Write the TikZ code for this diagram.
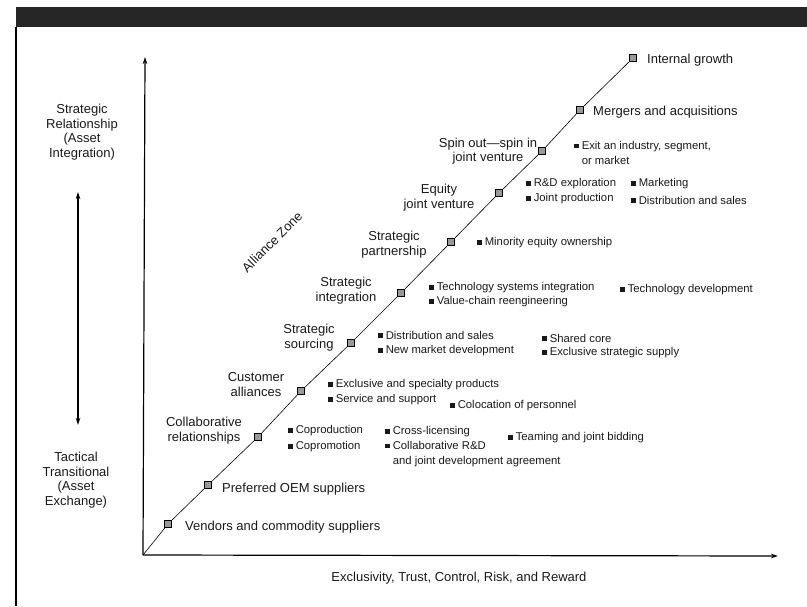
\documentclass[tikz,border=0pt]{standalone}
\usepackage{fontspec}
\setmainfont{Liberation Sans}
\usetikzlibrary{arrows.meta}
\newcommand\blt{\rule[1.1pt]{4.8pt}{4.8pt}\hspace{2.8pt}}
\newcommand\bltsp{\hspace*{7.6pt}}
\begin{document}
\begin{tikzpicture}[x=1pt,y=-1pt,
  lbl/.style={font=\fontsize{13}{14.5}\selectfont, inner sep=0pt, align=center, text=black!90},
  rlbl/.style={font=\fontsize{13}{14.5}\selectfont, inner sep=0pt, anchor=west, text=black!90},
  item/.style={font=\fontsize{11.3}{15}\selectfont, inner sep=0pt, anchor=west, align=left, text=black!90},
  sq/.style={draw=black, fill=black!40, line width=0.7pt, minimum size=7.5pt, inner sep=0pt},
  axisline/.style={line width=1.2pt, -{Stealth[length=7pt,width=4.5pt]}},
  diag/.style={line width=0.6pt},
]
\useasboundingbox (0,0) rectangle (807,606);
% frame
\fill[black!85] (16,7) rectangle (807,27);
\draw[line width=1.5pt] (16,27) -- (16,606);

% axes
\coordinate (O) at (143,555);
\coordinate (ytop) at (145,57);
\coordinate (xend) at (778,556);
\draw[axisline] (O) -- (ytop);
\draw[axisline] (O) -- (xend);

% double arrow
\coordinate (da) at (78,192);
\coordinate (db) at (78,425);
\draw[line width=1.1pt, {Stealth[length=7pt,width=4.5pt]}-{Stealth[length=7pt,width=4.5pt]}] (da) -- (db);

\node[lbl] (strel) at (82,132) {Strategic\\Relationship\\(Asset\\Integration)};
\node[lbl] (tact) at (76,480) {Tactical\\Transitional\\(Asset\\Exchange)};

% diagonal squares
\node[sq] (s1) at (168,524) {};
\node[sq] (s2) at (208,485) {};
\node[sq] (s3) at (258,437) {};
\node[sq] (s4) at (301,391) {};
\node[sq] (s5) at (351,343) {};
\node[sq] (s6) at (401,293) {};
\node[sq] (s7) at (451,242) {};
\node[sq] (s8) at (499,193) {};
\node[sq] (s9) at (542,151) {};
\node[sq] (s10) at (580,110) {};
\node[sq] (s11) at (633,58) {};
\draw[diag] (O) -- (s1) -- (s2) -- (s3) -- (s4) -- (s5) -- (s6) -- (s7) -- (s8) -- (s9) -- (s10) -- (s11);

% stage labels
\node[rlbl] (l11) at (647,60) {Internal growth};
\node[rlbl] (l10) at (593,112) {Mergers and acquisitions};
\node[lbl] (l9) at (488,151) {Spin out---spin in\\joint venture};
\node[lbl] (l8) at (439,197.5) {Equity\\joint venture};
\node[lbl] (l7) at (394,244.5) {Strategic\\partnership};
\node[lbl] (l6) at (346,290.5) {Strategic\\integration};
\node[lbl] (l5) at (309,337.5) {Strategic\\sourcing};
\node[lbl] (l4) at (256,384.5) {Customer\\alliances};
\node[lbl] (l3) at (204,430.5) {Collaborative\\relationships};
\node[rlbl] (l2) at (222,489) {Preferred OEM suppliers};
\node[rlbl] (l1) at (185,527) {Vendors and commodity suppliers};

\node[lbl, rotate=45] (zone) at (272,242) {Alliance Zone};
\node[lbl] (xlab) at (459,578) {Exclusivity, Trust, Control, Risk, and Reward};

% bullet items
\node[item] (b1) at (574,153) {\blt Exit an industry, segment,\\\bltsp or market};
\node[item] (b2) at (526,184) {\blt R\&D exploration};
\node[item] (b3) at (526,199) {\blt Joint production};
\node[item] (b4) at (631,184) {\blt Marketing};
\node[item] (b5) at (631,200) {\blt Distribution and sales};
\node[item] (b6) at (477,243) {\blt Minority equity ownership};
\node[item] (b7) at (429,288) {\blt Technology systems integration};
\node[item] (b8) at (429,302) {\blt Value-chain reengineering};
\node[item] (b9) at (620,290) {\blt Technology development};
\node[item] (b10) at (378,335) {\blt Distribution and sales};
\node[item] (b11) at (378,351) {\blt New market development};
\node[item] (b12) at (542,338) {\blt Shared core};
\node[item] (b13) at (542,353) {\blt Exclusive strategic supply};
\node[item] (b14) at (328,385) {\blt Exclusive and specialty products};
\node[item] (b15) at (328,400) {\blt Service and support};
\node[item] (b16) at (450,406) {\blt Colocation of personnel};
\node[item] (b17) at (288,431) {\blt Coproduction};
\node[item] (b18) at (288,447) {\blt Copromotion};
\node[item] (b19) at (385,432) {\blt Cross-licensing};
\node[item] (b20) at (385,454) {\blt Collaborative R\&D\\\bltsp and joint development agreement};
\node[item] (b21) at (508,438) {\blt Teaming and joint bidding};
\end{tikzpicture}
\end{document}
